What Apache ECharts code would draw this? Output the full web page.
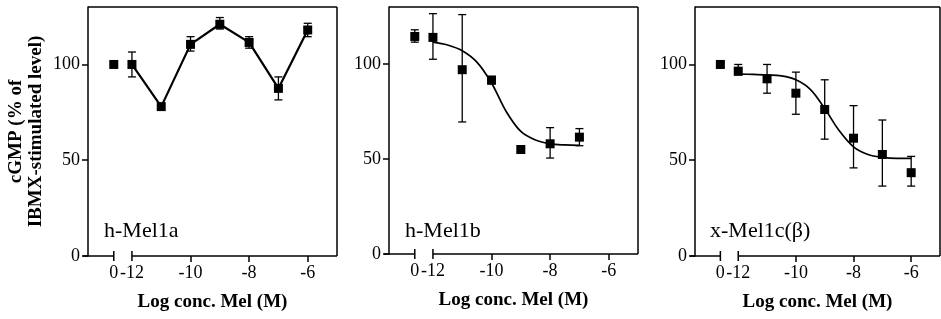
<!DOCTYPE html>
<html>
<head>
<meta charset="utf-8">
<title>cGMP Mel1</title>
<script src="https://cdn.jsdelivr.net/npm/echarts@6/dist/echarts.min.js"></script>
<style>
  body { margin: 0; background: #fff; }
  #main { width: 941px; height: 319px; }
</style>
</head>
<body>
<div id="main"></div>
<script>
// position on the axis where the "0" (control) point is drawn, left of the break
var ctrlX = -12.62;
var xMin = -13.5, xMax = -5, yMax = 130;
var xTicks = [-10, -8, -6];
var xLabels = [ctrlX, -12, -10, -8, -6];
var yTicks = [0, 50, 100];
var panelNames = ['h-Mel1a', 'h-Mel1b', 'x-Mel1c(\u03b2)'];

// h-Mel1a
var ctrl1 = [100, 100, 100];          // mean, low, high
var x1 = [-12, -11, -10, -9, -8, -7, -6];
var mean1 = [100, 78, 110.5, 121, 111.5, 87.5, 118];
var low1  = [93.5, 78, 107, 118.5, 108.5, 81.5, 114.5];
var high1 = [106.5, 78, 114.5, 124.5, 114.5, 93.5, 121.5];

// h-Mel1b
var ctrl2 = [114.5, 111.5, 118];
var x2 = [-12, -11, -10, -9, -8, -7];
var mean2 = [114, 97, 91.5, 55, 58, 61.5];
var low2  = [102.5, 69.5, 89.5, 53.5, 50.5, 57];
var high2 = [126.5, 126, 93.5, 56.5, 66.5, 66];
var curveX2 = [-12, -11.5, -11, -10.5, -10, -9.5, -9, -8.5, -8, -7.5, -7];
var curveY2 = [111.5, 110, 107, 101, 90, 75, 64.5, 60, 58, 57.4, 57.2];

// x-Mel1c(beta)
var ctrl3 = [100, 98.5, 101];
var x3 = [-12, -11, -10, -9, -8, -7, -6];
var mean3 = [96.5, 92.5, 85, 76.5, 61.5, 53, 43.5];
var low3  = [94.5, 85, 74, 61, 46, 36.5, 36.5];
var high3 = [100, 100, 96, 92, 78.5, 71, 52];
var curveX3 = [-12, -11.5, -11, -10.5, -10, -9.5, -9, -8.5, -8, -7.5, -7, -6.5, -6];
var curveY3 = [95, 94.8, 94.5, 94, 92, 87, 77, 65.5, 57, 53, 51.5, 51, 51];

var FONT = "'Liberation Serif', 'Times New Roman', serif";

function zip(a, b) { return a.map(function (v, i) { return [v, b[i]]; }); }

var grids = [
  { left: 88, top: 7, width: 249, height: 249 },
  { left: 389, top: 7, width: 249, height: 247 },
  { left: 695, top: 7, width: 245, height: 249 }
];

var xAxes = [], yAxes = [], series = [], titles = [];
var titleLeft = [99, 400, 705];

// frame: top + right border and the broken x axis line
function frameItem(params, api) {
  var tl = api.coord([xMin, yMax]), tr = api.coord([xMax, yMax]);
  var bl = api.coord([xMin, 0]), br = api.coord([xMax, 0]);
  var b1 = api.coord([ctrlX, 0]), b2 = api.coord([-12, 0]);
  var st = { stroke: '#000', lineWidth: 1.5 };
  var line = function (a, b) {
    return { type: 'line', shape: { x1: a[0], y1: a[1], x2: b[0], y2: b[1] }, style: st };
  };
  return {
    type: 'group',
    children: [
      line(tl, tr), line(tr, br),
      line([bl[0] - 5, bl[1]], b1),
      line(b2, br),
      line([b1[0], b1[1] - 5], [b1[0], b1[1] + 5]),
      line([b2[0], b2[1] - 5], [b2[0], b2[1] + 5])
    ]
  };
}

function errItem(params, api) {
  var x = api.value(0), lo = api.value(1), hi = api.value(2);
  if (hi - lo < 0.5) return null;
  var p1 = api.coord([x, hi]), p2 = api.coord([x, lo]);
  var st = { stroke: '#000', lineWidth: 1.3 };
  return {
    type: 'group',
    children: [
      { type: 'line', shape: { x1: p1[0], y1: p1[1], x2: p2[0], y2: p2[1] }, style: st },
      { type: 'line', shape: { x1: p1[0] - 4, y1: p1[1], x2: p1[0] + 4, y2: p1[1] }, style: st },
      { type: 'line', shape: { x1: p2[0] - 4, y1: p2[1], x2: p2[0] + 4, y2: p2[1] }, style: st }
    ]
  };
}

var panels = [
  { ctrl: ctrl1, x: x1, mean: mean1, low: low1, high: high1, lineData: zip(x1, mean1), smooth: false, lw: 2.2 },
  { ctrl: ctrl2, x: x2, mean: mean2, low: low2, high: high2, lineData: zip(curveX2, curveY2), smooth: 0.35, lw: 1.7 },
  { ctrl: ctrl3, x: x3, mean: mean3, low: low3, high: high3, lineData: zip(curveX3, curveY3), smooth: 0.35, lw: 1.7 }
];

panels.forEach(function (p, i) {
  xAxes.push({
    gridIndex: i, type: 'value', min: xMin, max: xMax,
    name: 'Log conc. Mel (M)', nameLocation: 'middle', nameGap: 37,
    nameTextStyle: { fontFamily: FONT, fontSize: 19, fontWeight: 'bold', color: '#000' },
    axisLine: { show: false },
    axisTick: { show: true, customValues: xTicks, length: 6, lineStyle: { color: '#000', width: 1.5 } },
    axisLabel: {
      customValues: xLabels, margin: 8, fontFamily: FONT, fontSize: 18, color: '#000',
      formatter: function (v) { return v === ctrlX ? '0' : String(v); }
    },
    splitLine: { show: false }
  });
  yAxes.push({
    gridIndex: i, type: 'value', min: 0, max: yMax,
    name: i === 0 ? 'cGMP (% of\nIBMX-stimulated level)' : '',
    nameLocation: 'middle', nameGap: 42,
    nameTextStyle: { fontFamily: FONT, fontSize: 19, fontWeight: 'bold', color: '#000', lineHeight: 20 },
    axisLine: { show: true, lineStyle: { color: '#000', width: 1.5 } },
    axisTick: { show: true, customValues: yTicks, length: 6, lineStyle: { color: '#000', width: 1.5 } },
    axisLabel: { customValues: yTicks, margin: 8, fontFamily: FONT, fontSize: 18, color: '#000' },
    splitLine: { show: false }
  });
  titles.push({
    text: panelNames[i], left: titleLeft[i], top: 215,
    textStyle: { fontFamily: FONT, fontSize: 22, fontWeight: 'normal', color: '#000' }
  });

  series.push({
    type: 'custom', xAxisIndex: i, yAxisIndex: i, silent: true, clip: false,
    renderItem: frameItem, data: [[xMin, 0]]
  });
  series.push({
    type: 'line', xAxisIndex: i, yAxisIndex: i, data: p.lineData,
    smooth: p.smooth, showSymbol: false, silent: true,
    lineStyle: { color: '#000', width: p.lw }
  });
  var errData = [[ctrlX, p.ctrl[1], p.ctrl[2]]].concat(
    p.x.map(function (v, k) { return [v, p.low[k], p.high[k]]; })
  );
  series.push({
    type: 'custom', xAxisIndex: i, yAxisIndex: i, silent: true,
    renderItem: errItem, data: errData
  });
  series.push({
    type: 'scatter', xAxisIndex: i, yAxisIndex: i,
    symbol: 'rect', symbolSize: 9, itemStyle: { color: '#000', opacity: 1 },
    data: [[ctrlX, p.ctrl[0]]].concat(zip(p.x, p.mean))
  });
});

var myChart = echarts.init(document.getElementById('main'));
myChart.setOption({
  animation: false,
  backgroundColor: '#fff',
  title: titles,
  grid: grids,
  xAxis: xAxes,
  yAxis: yAxes,
  series: series
});
</script>
</body>
</html>
